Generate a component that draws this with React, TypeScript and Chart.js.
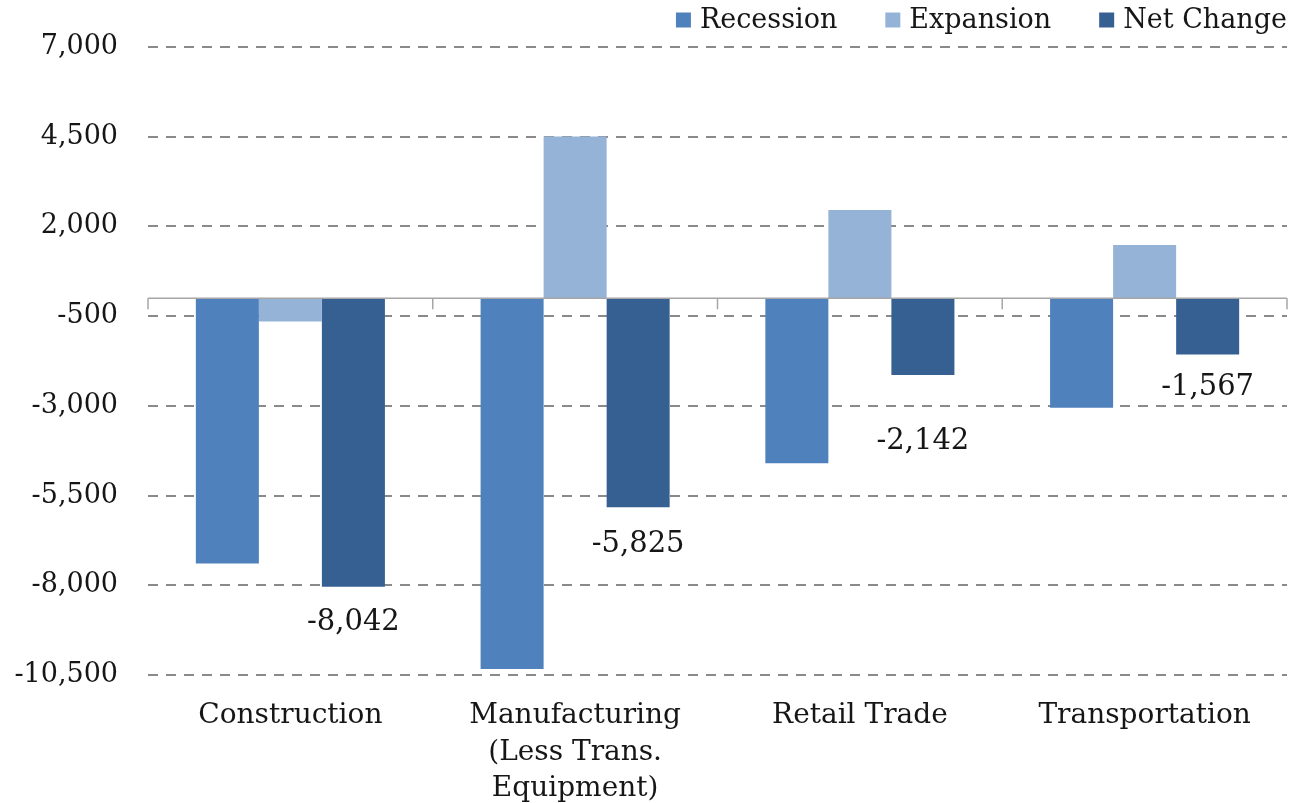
import React, { useEffect, useRef } from "react";
import { Chart, registerables } from "chart.js";

Chart.register(...registerables);

// ---- Data ----
const categories = [
  "Construction",
  "Manufacturing\n(Less Trans.\nEquipment)",
  "Retail Trade",
  "Transportation",
];
const seriesNames = ["Recession", "Expansion", "Net Change"];
const recession = [-7392, -10330, -4600, -3050];
const expansion = [-650, 4505, 2458, 1483];
const netChange = [-8042, -5825, -2142, -1567];
const yMin = -10500;
const yMax = 7000;
const yStep = 2500;

// ---- Style ----
const COLORS = ["#4F81BD", "#95B3D7", "#376092"];
const FONT = "'DejaVu Serif', Georgia, serif";
const TEXT = "#161616";
const NET_LABEL_OFFSETS = [36, 37, 66, 33];

const fmt = (v: number) => v.toLocaleString("en-US");

const zeroLinePlugin = {
  id: "zeroLine",
  afterDatasetsDraw(chart: any) {
    const { ctx, chartArea } = chart;
    const xs = chart.scales.x;
    const ys = chart.scales.y;
    const y0 = ys.getPixelForValue(0);
    ctx.save();
    ctx.strokeStyle = "#A6A6A6";
    ctx.lineWidth = 1.5;
    ctx.beginPath();
    ctx.moveTo(chartArea.left, y0);
    ctx.lineTo(chartArea.right, y0);
    const n = chart.data.labels.length;
    for (let i = 0; i <= n; i++) {
      let x;
      if (i === 0) x = chartArea.left;
      else if (i === n) x = chartArea.right;
      else x = (xs.getPixelForValue(i - 1) + xs.getPixelForValue(i)) / 2;
      ctx.moveTo(x, y0);
      ctx.lineTo(x, y0 + 11);
    }
    ctx.stroke();
    ctx.restore();
  },
};

const netLabelPlugin = {
  id: "netLabels",
  afterDatasetsDraw(chart: any) {
    const { ctx } = chart;
    const meta = chart.getDatasetMeta(2);
    ctx.save();
    ctx.font = `29px ${FONT}`;
    ctx.fillStyle = TEXT;
    ctx.textAlign = "center";
    ctx.textBaseline = "middle";
    meta.data.forEach((el: any, i: number) => {
      const v = chart.data.datasets[2].data[i];
      ctx.fillText(fmt(v), el.x, el.y + NET_LABEL_OFFSETS[i]);
    });
    ctx.restore();
  },
};

const legendPlugin = {
  id: "customLegend",
  afterDraw(chart: any) {
    const { ctx, chartArea } = chart;
    ctx.save();
    ctx.font = `27px ${FONT}`;
    const box = 15;
    const gapText = 9;
    const gapItem = 48;
    const items = chart.data.datasets.map((ds: any) => ({
      text: ds.label,
      color: ds.backgroundColor,
      w: ctx.measureText(ds.label).width,
    }));
    const total =
      items.reduce((s: number, it: any) => s + box + gapText + it.w, 0) +
      gapItem * (items.length - 1);
    let x = chartArea.right - total;
    const yc = 20;
    ctx.textBaseline = "middle";
    ctx.textAlign = "left";
    items.forEach((it: any) => {
      ctx.fillStyle = it.color;
      ctx.fillRect(x, yc - box / 2, box, box);
      x += box + gapText;
      ctx.fillStyle = TEXT;
      ctx.fillText(it.text, x, yc + 1);
      x += it.w + gapItem;
    });
    ctx.restore();
  },
};

export default function App() {
  const ref = useRef<HTMLCanvasElement | null>(null);

  useEffect(() => {
    if (!ref.current) return;
    const chart = new Chart(ref.current, {
      type: "bar",
      data: {
        labels: categories.map((c) => c.split("\n")),
        datasets: [
          { label: seriesNames[0], data: recession, backgroundColor: COLORS[0] },
          { label: seriesNames[1], data: expansion, backgroundColor: COLORS[1] },
          { label: seriesNames[2], data: netChange, backgroundColor: COLORS[2] },
        ],
      },
      options: {
        responsive: false,
        animation: false,
        maintainAspectRatio: false,
        layout: { padding: { left: 8, right: 5, top: 47, bottom: 0 } },
        datasets: {
          bar: { categoryPercentage: 0.664, barPercentage: 1.0, borderWidth: 0 },
        },
        plugins: {
          legend: { display: false },
          tooltip: { enabled: false },
        },
        scales: {
          x: {
            grid: { display: false, drawTicks: false },
            border: { display: false },
            ticks: {
              color: TEXT,
              font: { family: FONT, size: 28, lineHeight: 1.3 },
              padding: 23,
              maxRotation: 0,
              autoSkip: false,
            },
            afterFit: (s: any) => {
              s.height = 128;
            },
          },
          y: {
            min: yMin,
            max: yMax,
            border: { display: false, dash: [10, 8] },
            grid: {
              color: "#8A8A8A",
              lineWidth: 2,
              drawTicks: false,
            },
            ticks: {
              stepSize: yStep,
              color: TEXT,
              font: { family: FONT, size: 27 },
              padding: 30,
              callback: (v: any) => fmt(Number(v)),
            },
            afterFit: (s: any) => {
              s.width = 140;
            },
          },
        },
      },
      plugins: [zeroLinePlugin, netLabelPlugin, legendPlugin],
    } as any);
    return () => chart.destroy();
  }, []);

  return (
    <div style={{ position: "absolute", left: 0, top: 0, width: 1292, height: 803, background: "#fff" }}>
      <canvas ref={ref} width={1292} height={803} />
    </div>
  );
}
